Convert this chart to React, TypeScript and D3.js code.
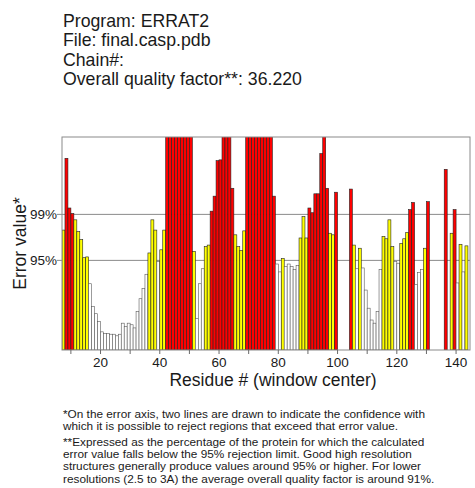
import React from "react";
import * as d3 from "d3";

const titleLines = [
  "Program: ERRAT2",
  "File: final.casp.pdb",
  "Chain#:",
  "Overall quality factor**: 36.220",
];

const firstResidue = 7;
// error values per residue (window center), 0 = no value; values above the top are clipped
const errorValues = [
  15.2, 24.3, 18.0, 17.3, 16.5, 15.0, 14.0, 11.7, 11.8, 8.4,
  5.5, 4.6, 3.6, 2.3, 2.1, 2.1, 2.0, 2.0, 1.8, 2.0,
  3.4, 3.0, 3.4, 3.2, 2.8, 4.9, 6.5, 7.8, 9.6, 12.3,
  16.5, 15.2, 11.2, 12.7, 15.2, 28, 28, 28, 28, 28,
  28, 28, 28, 28, 12.5, 4.0, 8.4, 10.3, 13.1, 13.3,
  17.6, 19.5, 24.0, 24.1, 28, 28, 28, 20.5, 14.6, 13.1,
  12.6, 15.1, 28, 28, 28, 28, 28, 28, 28, 28,
  28, 19.5, 10.9, 9.9, 11.6, 10.6, 10.9, 10.6, 10.2, 10.7,
  14.2, 16.9, 14.2, 18.0, 17.4, 19.8, 19.8, 24.9, 28, 20.5,
  14.8, 14.6, 20.0, 0, 0, 0, 0, 20.4, 13.3, 10.3,
  12.9, 10.4, 7.6, 5.3, 3.8, 3.4, 4.9, 10.2, 14.4, 14.1,
  16.5, 13.1, 11.2, 11.0, 13.5, 14.1, 14.9, 17.8, 18.7, 8.3,
  9.8, 10.2, 12.9, 18.8, 0, 0, 0, 0, 0, 22.9,
  0, 14.8, 17.8, 8.5, 13.4, 9.9, 13.2,
];

const thresholdLabels = ["99%", "95%"];
const thresholdValues = [17.19, 11.36];
const xTickValues = [10, 20, 30, 40, 50, 60, 70, 80, 90, 100, 110, 120, 130, 140];
const xLabelValues = [20, 40, 60, 80, 100, 120, 140];

const footnote1 = [
  "*On the error axis, two lines are drawn to indicate the confidence with",
  "which it is possible to reject regions that exceed that error value.",
];
const footnote2 = [
  "**Expressed as the percentage of the protein for which the calculated",
  "error value falls below the 95% rejection limit.  Good high resolution",
  "structures generally produce values around 95% or higher.  For lower",
  "resolutions (2.5 to 3A) the average overall quality factor is around 91%.",
];

const FONT = "'Liberation Sans', Arial, Helvetica, sans-serif";

export default function App() {
  const left = 62, right = 470, top = 137, bottom = 350;
  const x = d3.scaleLinear().domain([firstResidue, 144.7]).range([left, right]);
  const y = d3.scaleLinear().domain([0, 27]).range([bottom, top]);
  const data = errorValues.map((v, i) => ({ r: firstResidue + i, v }));

  const colorOf = (v: number) =>
    v > thresholdValues[0] ? "#ff0000" : v > thresholdValues[1] ? "#ffff00" : "#ffffff";

  return (
    <svg
      width={475}
      height={488}
      style={{ position: "absolute", left: 0, top: 0, background: "#fff" }}
      fontFamily={FONT}
    >
      <rect x={0} y={0} width={475} height={488} fill="#fff" />
      {titleLines.map((t, i) => (
        <text key={t} x={63} y={26.5 + i * 19.6} fontSize={17.7} fill="#1a1a1a">
          {t}
        </text>
      ))}

      <defs>
        <clipPath id="plotclip">
          <rect x={left} y={top} width={right - left} height={bottom - top} />
        </clipPath>
      </defs>

      {thresholdValues.map((tv, i) => (
        <g key={tv}>
          <line x1={left - 5} x2={right} y1={y(tv)} y2={y(tv)} stroke="#8a8a8a" strokeWidth={1} />
          <text x={57} y={y(tv) + 5} fontSize={13.5} textAnchor="end" fill="#1a1a1a">
            {thresholdLabels[i]}
          </text>
        </g>
      ))}

      <g clipPath="url(#plotclip)">
        {data
          .filter((d) => d.v > 0)
          .map((d) => {
            const yy = Math.max(y(d.v), top - 2);
            const c = colorOf(d.v);
            return (
              <rect
                key={d.r}
                x={x(d.r)}
                y={yy}
                width={x(d.r + 1) - x(d.r)}
                height={bottom - yy}
                fill={c}
                stroke={c === "#ffffff" ? "#5a5a5a" : "#222"}
                strokeWidth={0.6}
              />
            );
          })}
      </g>

      <rect x={left} y={top} width={right - left} height={bottom - top} fill="none" stroke="#8a8a8a" strokeWidth={1} />

      {xTickValues.map((t) => (
        <line key={t} x1={x(t)} x2={x(t)} y1={bottom} y2={bottom + 4} stroke="#6a6a6a" strokeWidth={1} />
      ))}
      {xLabelValues.map((t) => (
        <text key={t} x={x(t)} y={bottom + 17} fontSize={13.5} textAnchor="middle" fill="#1a1a1a">
          {t}
        </text>
      ))}

      <text x={273} y={386} fontSize={17.5} textAnchor="middle" fill="#1a1a1a">
        Residue # (window center)
      </text>
      <text
        transform={`translate(26, ${(top + bottom) / 2}) rotate(-90)`}
        fontSize={17.5}
        textAnchor="middle"
        fill="#1a1a1a"
      >
        Error value*
      </text>

      {footnote1.map((t, i) => (
        <text key={t} x={63} y={418 + i * 12.2} fontSize={11.8} fill="#1a1a1a">
          {t}
        </text>
      ))}
      {footnote2.map((t, i) => (
        <text key={t} x={63} y={446 + i * 12.2} fontSize={11.8} fill="#1a1a1a">
          {t}
        </text>
      ))}
    </svg>
  );
}
